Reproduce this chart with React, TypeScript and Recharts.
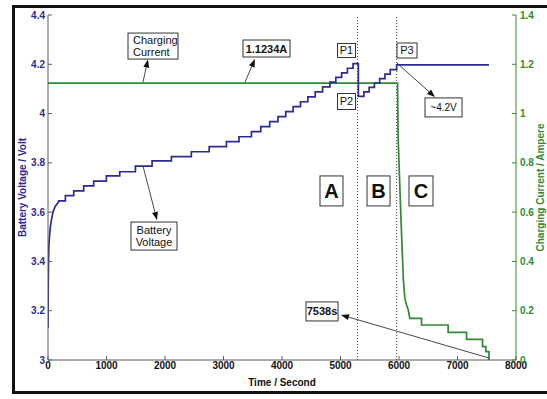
import { LineChart, Line, XAxis, YAxis, ReferenceLine, ReferenceDot } from "recharts"

const FONT = "'Liberation Sans', Arial, Helvetica, sans-serif"
const VOLT_COLOR = "#2b2b96"
const AMP_COLOR = "#2f8a32"
const AXIS_COLOR = "#5a5a5a"

const timeTicks = [0, 1000, 2000, 3000, 4000, 5000, 6000, 7000, 8000]
const voltTicks = [3, 3.2, 3.4, 3.6, 3.8, 4, 4.2, 4.4]
const ampTicks = [0, 0.2, 0.4, 0.6, 0.8, 1, 1.2, 1.4]

// battery voltage: fast rise at the start
const riseTime = [0, 4, 9, 15, 25, 40, 60, 85, 120, 183]
const riseVolt = [3.13, 3.3, 3.4, 3.46, 3.5, 3.54, 3.57, 3.6, 3.622, 3.642]
// then the staircase (time of each step, level after it)
const stepTime = [183, 297, 440, 610, 781, 998, 1226, 1494, 1779, 2110, 2450, 2755, 3050, 3265, 3478, 3637, 3790, 3932, 4064, 4190, 4316, 4442, 4568, 4694, 4820, 4920, 5020, 5118, 5215, 5305, 5400, 5490, 5580, 5670, 5760, 5850, 5960]
const stepVolt = [3.646, 3.667, 3.686, 3.707, 3.726, 3.747, 3.764, 3.787, 3.808, 3.825, 3.845, 3.866, 3.886, 3.906, 3.927, 3.947, 3.967, 3.988, 4.008, 4.028, 4.048, 4.068, 4.088, 4.108, 4.128, 4.147, 4.165, 4.184, 4.203, 4.07, 4.088, 4.106, 4.124, 4.142, 4.16, 4.178, 4.198]
const endTime = 7538

// charging current
const ccTime = [0, 5975, 5985, 6020, 6052, 6075, 6100, 6130, 6158, 6185]
const ccAmp = [1.1234, 1.1234, 0.906, 0.663, 0.46, 0.325, 0.25, 0.223, 0.203, 0.169]
const tailTime = [6185, 6385, 6840, 7155, 7428, 7485, 7538]
const tailAmp = [0.169, 0.142, 0.112, 0.084, 0.054, 0.034, 0]

const phaseLines = [5290, 5960]

// annotations (centre in data units, voltage axis)
const boxes = [
  { lines: ["Charging", "Current"], t: 1795, v: 4.274, w: 50, h: 26, size: 11, bold: false, anchor: "start" },
  { lines: ["1.1234A"], t: 3735, v: 4.264, w: 47, h: 17, size: 11, bold: true, anchor: "middle" },
  { lines: ["P1"], t: 5103, v: 4.256, w: 18, h: 14, size: 11, bold: false, anchor: "middle" },
  { lines: ["P2"], t: 5103, v: 4.049, w: 18, h: 16, size: 11, bold: false, anchor: "middle" },
  { lines: ["P3"], t: 6137, v: 4.256, w: 20, h: 15, size: 11, bold: false, anchor: "middle" },
  { lines: ["~4.2V"], t: 6761, v: 4.025, w: 37, h: 19, size: 10, bold: false, anchor: "middle" },
  { lines: ["Battery", "Voltage"], t: 1812, v: 3.503, w: 46, h: 28, size: 11, bold: false, anchor: "middle" },
  { lines: ["A"], t: 4846, v: 3.686, w: 23, h: 30, size: 20, bold: true, anchor: "middle" },
  { lines: ["B"], t: 5650, v: 3.686, w: 23, h: 30, size: 20, bold: true, anchor: "middle" },
  { lines: ["C"], t: 6376, v: 3.686, w: 24, h: 30, size: 20, bold: true, anchor: "middle" },
  { lines: ["7538s"], t: 4684, v: 3.197, w: 32, h: 19, size: 11, bold: true, anchor: "middle" },
]

const arrows = [
  { from: [1624, 4.128], to: [1709, 4.219] },
  { from: [3368, 4.128], to: [3538, 4.221] },
  { from: [5966, 4.205], to: [6615, 4.067] },
  { from: [1624, 3.787], to: [1863, 3.568] },
  { from: [7538, 3.008], to: [5009, 3.183] },
]

function stairs(times: number[], levels: number[], end?: number) {
  const pts: { t: number; y: number }[] = []
  times.forEach((t, i) => {
    if (i > 0) pts.push({ t, y: levels[i - 1] })
    pts.push({ t, y: levels[i] })
  })
  if (end !== undefined) pts.push({ t: end, y: levels[levels.length - 1] })
  return pts
}

const voltData = [
  ...riseTime.map((t, i) => ({ t, y: riseVolt[i] })),
  ...stairs(stepTime, stepVolt, endTime),
]
const ampData = [
  ...ccTime.map((t, i) => ({ t, y: ccAmp[i] })),
  ...stairs(tailTime, tailAmp),
]

function boxShape(b: (typeof boxes)[number]) {
  return (p: any) => {
    const { cx, cy } = p
    const lh = b.size * 1.1
    const tx = b.anchor === "start" ? cx - b.w / 2 + 5 : cx
    return (
      <g>
        <rect x={cx - b.w / 2} y={cy - b.h / 2} width={b.w} height={b.h} fill="#fff" stroke="#333" strokeWidth={1} />
        {b.lines.map((l, i) => (
          <text
            key={i}
            x={tx}
            y={cy + (i - (b.lines.length - 1) / 2) * lh}
            textAnchor={b.anchor}
            dominantBaseline="central"
            fontSize={b.size}
            fontWeight={b.bold ? "bold" : "normal"}
            fontFamily={FONT}
            fill="#111"
          >
            {l}
          </text>
        ))}
      </g>
    )
  }
}

function arrowShape(p: any) {
  const { x1, y1, x2, y2 } = p
  const ang = Math.atan2(y2 - y1, x2 - x1)
  const len = 8
  const half = 3
  const bx = x2 - len * Math.cos(ang)
  const by = y2 - len * Math.sin(ang)
  const nx = -Math.sin(ang) * half
  const ny = Math.cos(ang) * half
  return (
    <g>
      <line x1={x1} y1={y1} x2={bx} y2={by} stroke="#333" strokeWidth={0.9} />
      <polygon points={`${x2},${y2} ${bx + nx},${by + ny} ${bx - nx},${by - ny}`} fill="#111" />
    </g>
  )
}

const tickFont = { fontSize: 10, fontWeight: "bold", fontFamily: FONT }

export default function App() {
  return (
    <div style={{ position: "absolute", left: 0, top: 0, width: 547, height: 399, background: "#fff", overflow: "hidden" }}>
      <div style={{ position: "absolute", left: 12, top: 5, width: 560, height: 383, border: "3px solid #111" }} />
      <div style={{ position: "absolute", left: 0, top: 0 }}>
        <LineChart width={547} height={399} margin={{ top: 15, right: 0, bottom: 0, left: 0 }}>
          <XAxis
            xAxisId="t"
            type="number"
            dataKey="t"
            domain={[0, 8000]}
            ticks={timeTicks}
            allowDataOverflow
            height={39}
            tickSize={-4}
            tickMargin={6}
            stroke={AXIS_COLOR}
            tick={{ ...tickFont, fill: "#111" }}
            label={{ value: "Time / Second", position: "insideBottom", offset: 13, style: { ...tickFont, fill: "#111" } }}
          />
          <XAxis
            xAxisId="top"
            orientation="top"
            type="number"
            dataKey="t"
            domain={[0, 8000]}
            ticks={timeTicks}
            allowDataOverflow
            height={0}
            tickSize={-4}
            tick={false}
            stroke={AXIS_COLOR}
          />
          <YAxis
            yAxisId="v"
            type="number"
            domain={[3, 4.4]}
            ticks={voltTicks}
            allowDataOverflow
            width={48}
            tickSize={-4}
            tickMargin={7}
            stroke={AXIS_COLOR}
            tick={{ ...tickFont, fill: VOLT_COLOR }}
            label={{ value: "Battery Voltage / Volt", angle: -90, position: "insideLeft", offset: 22, style: { ...tickFont, fill: VOLT_COLOR, textAnchor: "middle" } }}
          />
          <YAxis
            yAxisId="c"
            orientation="right"
            type="number"
            domain={[0, 1.4]}
            ticks={ampTicks}
            allowDataOverflow
            width={31}
            tickSize={-4}
            tickMargin={8}
            stroke={AMP_COLOR}
            tick={{ ...tickFont, fill: AMP_COLOR }}
            label={{ value: "Charging Current / Ampere", angle: -90, position: "insideRight", offset: 7, style: { ...tickFont, fill: AMP_COLOR, textAnchor: "middle" } }}
          />
          {phaseLines.map((t) => (
            <ReferenceLine key={t} xAxisId="t" yAxisId="v" x={t} stroke="#444" strokeDasharray="1 2" strokeWidth={1} />
          ))}
          <Line
            xAxisId="t"
            yAxisId="c"
            data={ampData}
            dataKey="y"
            type="linear"
            stroke={AMP_COLOR}
            strokeWidth={1.7}
            dot={false}
            isAnimationActive={false}
          />
          <Line
            xAxisId="t"
            yAxisId="v"
            data={voltData}
            dataKey="y"
            type="linear"
            stroke={VOLT_COLOR}
            strokeWidth={1.7}
            dot={false}
            isAnimationActive={false}
          />
          {arrows.map((a, i) => (
            <ReferenceLine
              key={"a" + i}
              xAxisId="t"
              yAxisId="v"
              segment={[{ x: a.from[0], y: a.from[1] }, { x: a.to[0], y: a.to[1] }]}
              shape={arrowShape}
              ifOverflow="visible"
            />
          ))}
          {boxes.map((b, i) => (
            <ReferenceDot key={"b" + i} xAxisId="t" yAxisId="v" x={b.t} y={b.v} r={1} shape={boxShape(b)} ifOverflow="visible" />
          ))}
        </LineChart>
      </div>
    </div>
  )
}
